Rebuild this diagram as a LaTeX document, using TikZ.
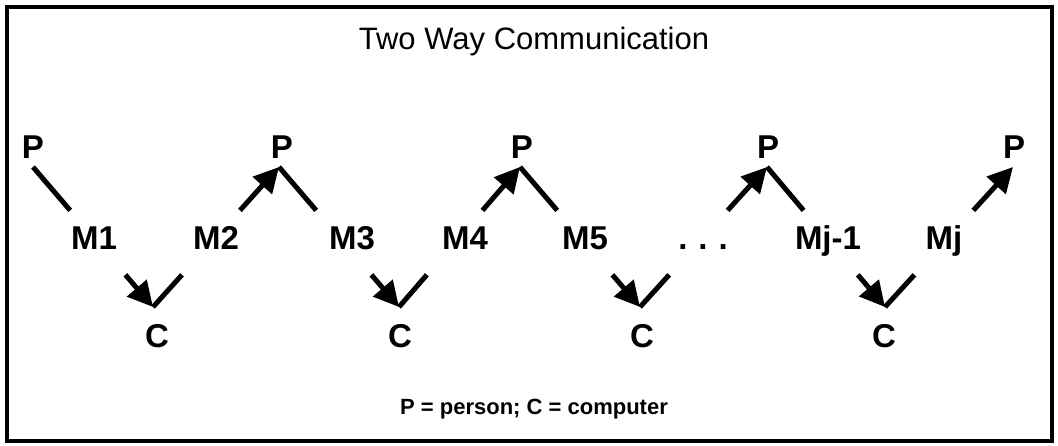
\documentclass[tikz,border=0pt]{standalone}
\usepackage{fontspec}
\setmainfont{Liberation Sans}
\usetikzlibrary{arrows.meta,calc}
\begin{document}
\begin{tikzpicture}[x=1pt,y=-1pt,
  frame/.style={line width=3.5pt},
  msg/.style={line width=5pt},
  sent/.style={msg,-{Triangle[length=25pt,width=25pt]}},
  party/.style={font=\fontsize{33}{36}\selectfont\bfseries,inner sep=0pt,anchor=base},
  label/.style={font=\fontsize{33}{36}\selectfont\bfseries,inner sep=0pt,anchor=base},
  heading/.style={font=\fontsize{31}{34}\selectfont,inner sep=0pt,anchor=base},
  legend/.style={font=\fontsize{22}{24}\selectfont\bfseries,inner sep=0pt,anchor=base}]
\useasboundingbox (0,0) rectangle (1058,445);
\draw[frame] (7,7) rectangle (1052,441);

\node[heading] (title) at (534,49) {Two Way Communication};

% people along the top, computers along the bottom
\node[party] (p1) at (33,158) {P};
\node[party] (p2) at (282,158) {P};
\node[party] (p3) at (522,158) {P};
\node[party] (p4) at (768,158) {P};
\node[party] (p5) at (1014,158) {P};
\node[party] (c1) at (157,347) {C};
\node[party] (c2) at (400,347) {C};
\node[party] (c3) at (642,347) {C};
\node[party] (c4) at (884,347) {C};

% where the message lines meet
\coordinate (t1) at (33,167);
\coordinate (t2) at (279,167);
\coordinate (t3) at (520,167);
\coordinate (t4) at (767,167);
\coordinate (t5) at (1013,167);
\coordinate (b1) at (153,307);
\coordinate (b2) at (399,307);
\coordinate (b3) at (640,307);
\coordinate (b4) at (885,307);

% message labels
\node[label] (m1) at (94,249) {M1};
\node[label] (m2) at (216,249) {M2};
\node[label] (m3) at (352,249) {M3};
\node[label] (m4) at (465,249) {M4};
\node[label] (m5) at (585,249) {M5};
\node[label] (m6) at (703,249) {.\hspace{11pt}.\hspace{11pt}.};
\node[label] (m7) at (828,249) {Mj-1};
\node[label] (m8) at (944,249) {Mj};

% person -> computer messages
\foreach \a/\b in {t1/b1,t2/b2,t3/b3,t4/b4}{
  \draw[msg] (\a) -- ($(\a)!0.31!(\b)$);
  \draw[sent] ($(\a)!0.77!(\b)$) -- (\b);
}
% computer -> person messages
\foreach \a/\b in {b1/t2,b2/t3,b3/t4,b4/t5}{
  \draw[msg] (\a) -- ($(\a)!0.23!(\b)$);
  \draw[sent] ($(\a)!0.69!(\b)$) -- (\b);
}

\node[legend] (key) at (534,414) {P = person; C = computer};
\end{tikzpicture}
\end{document}
